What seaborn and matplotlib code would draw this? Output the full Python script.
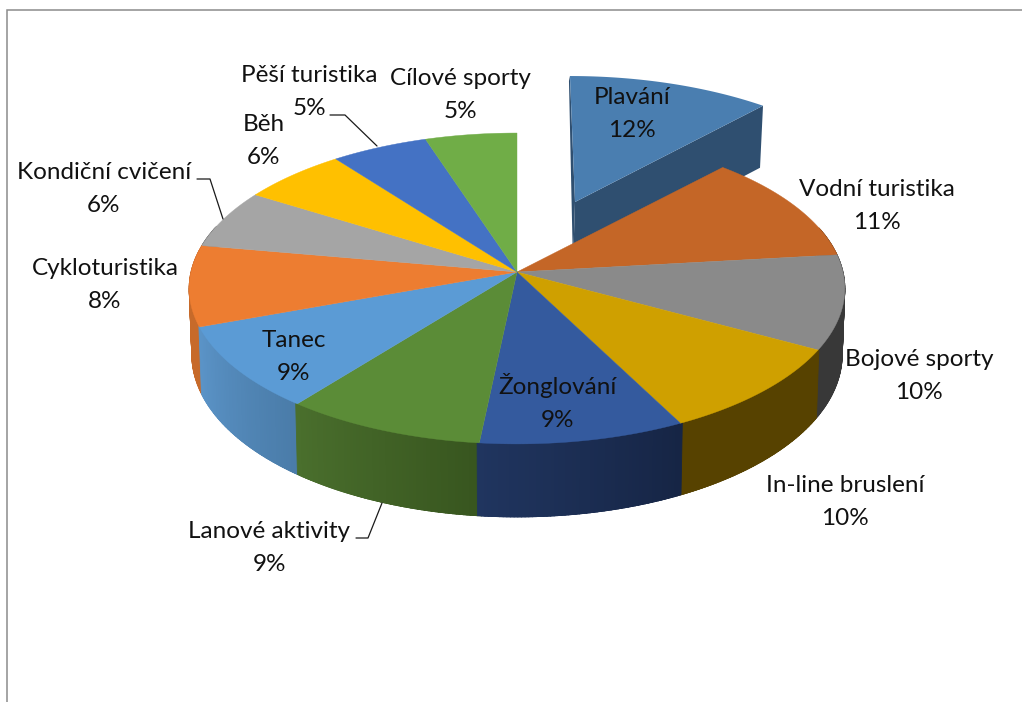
import numpy as np
import matplotlib
matplotlib.use("Agg")
import matplotlib.pyplot as plt
import seaborn as sns
from matplotlib.colors import to_rgb

categories = ["Plavání", "Vodní turistika", "Bojové sporty", "In-line bruslení", "Žonglování",
              "Lanové aktivity", "Tanec", "Cykloturistika", "Kondiční cvičení", "Běh",
              "Pěší turistika", "Cílové sporty"]
shares = [11.9, 11.3, 9.8, 9.5, 9.15, 8.95, 8.8, 8.4, 6.1, 5.8, 5.3, 5.0]
percent_labels = [12, 11, 10, 10, 9, 9, 9, 8, 6, 6, 5, 5]
top_colors = ["#4A7EB0", "#C46627", "#8A8A8A", "#CFA000", "#345A9E", "#5B8C37",
              "#5B9BD5", "#ED7D31", "#A5A5A5", "#FFC000", "#4472C4", "#70AD47"]
side_start = ["#2F4F70", "#7A4018", "#383838", "#574200", "#162545", "#38561F",
              "#4A7CA9", "#C76A2A", "#666666", "#9A7400", "#2A4577", "#44692B"]
side_end = ["#2F4F70", "#7A4018", "#383838", "#574200", "#20355F", "#4A6F2D",
            "#5B94C8", "#C76A2A", "#666666", "#9A7400", "#2A4577", "#44692B"]
label_x = [632, 877, 919, 845, 557, 269, 294, 105, 104, 264, 309, 460]
label_y = [114, 206, 376, 502, 402, 548, 357, 285, 189, 141, 92, 95]
leaders = {"Kondiční cvičení": ([197, 210, 223], [179, 179, 219]),
           "Lanové aktivity": ([356, 368, 382], [538, 538, 503]),
           "Pěší turistika": ([330, 345, 377], [115, 115, 146])}

sns.set_theme(style="white", palette=sns.color_palette(top_colors))
plt.rcParams["font.family"] = ["Lato", "DejaVu Sans"]

fig, ax = plt.subplots(figsize=(10.22, 7.02), dpi=100)
ax.set_position([0, 0, 1, 1])
ax.set_xlim(0, 1022)
ax.set_ylim(702, 0)
ax.axis("off")

CX, CY, RX, RY, K = 517, 272, 326, 153.7, 0.106


def rim(theta):
    s, c = np.sin(theta), np.cos(theta)
    d = 1 + K * c
    return CX + RX * s / d, CY - RY * c / d


def wall_rim(theta):
    x, y = rim(theta)
    return CX + 0.992 * (x - CX), y + 65 - 8 * np.cos(theta)


# exploded slice has its own projection
EX, EY, ERX, ERY, EK, SKEW = 575, 202, 319, 148.4, 0.178, 0.04


def ex_rim(theta):
    s, c = np.sin(theta), np.cos(theta)
    d = 1 + EK * c
    up = ERY * c / d
    return EX + ERX * s / d - SKEW * up, EY - up


edges = 2 * np.pi * np.concatenate([[0], np.cumsum(shares)]) / np.sum(shares)

# exploded slice: cut faces, then its top
t = np.linspace(edges[0], edges[1], 60)
ex, ey = ex_rim(t)
x0, y0 = ex[0], ey[0]
x1, y1 = ex[-1], ey[-1]
ax.fill([x0, EX, EX - 2, x0 - 1], [y0, EY, EY + 64, y0 + 5], color=side_start[0], lw=0, zorder=1)
ax.fill([EX, x1, x1 - 3, EX - 2], [EY, y1, y1 + 62, EY + 64], color=side_start[0], lw=0, zorder=1)
ax.fill(np.r_[EX, ex], np.r_[EY, ey], color=top_colors[0], lw=0, zorder=2)

# walls of the main pie, only the part facing the viewer, back to front
strips = []
for i in range(1, len(shares)):
    a, b = edges[i], edges[i + 1]
    n = max(int((b - a) / 0.01), 2)
    ts = np.linspace(a, b, n + 1)
    for j in range(n):
        if np.cos(ts[j]) > 0.3:
            continue
        f = j / max(n - 1, 1)
        col = (1 - f) * np.array(to_rgb(side_start[i])) + f * np.array(to_rgb(side_end[i]))
        strips.append((ts[j], ts[j + 1], col))
strips.sort(key=lambda q: -np.cos(q[0]))
for a, b, col in strips:
    tt = np.array([a - 0.006, b + 0.006])
    xt, yt = rim(tt)
    xb, yb = wall_rim(tt)
    ax.fill([xt[0], xt[1], xb[1], xb[0]], [yt[0], yt[1], yb[1], yb[0]],
            color=col, lw=0.6, ec=col, zorder=3)

# top surfaces
for i in range(1, len(shares)):
    t = np.linspace(edges[i], edges[i + 1], 60)
    x, y = rim(t)
    ax.fill(np.r_[CX, x], np.r_[CY, y], color=top_colors[i], lw=0.3, ec=top_colors[i], zorder=4)

# frame around the chart area
ax.plot([7, 7, 1022], [702, 10, 10], color="#8C8C8C", lw=1.1, zorder=1, solid_joinstyle="miter")

for name, (lx, ly) in leaders.items():
    ax.plot(lx, ly, color="#1A1A1A", lw=0.9, zorder=5)

for name, p, x, y in zip(categories, percent_labels, label_x, label_y):
    ax.text(x, y, f"{name}\n{p}%", ha="center", va="center", fontsize=17.5,
            color="#111111", linespacing=1.65, zorder=6)

fig.savefig("out.png", dpi=100)
